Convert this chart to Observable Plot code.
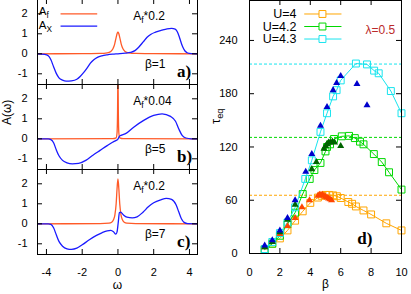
<!DOCTYPE html>
<html><head><meta charset="utf-8">
<script src="https://cdn.jsdelivr.net/npm/d3@7"></script>
<script src="https://cdn.jsdelivr.net/npm/@observablehq/plot@0.6"></script>
<style>
body{margin:0;background:#fff;}
#chart{position:relative;width:411px;height:294px;overflow:hidden;background:#fff;}
</style></head><body><div id="chart"></div>
<script>
// ---------- Left column: spectral functions A(ω) ----------
// panel a) β=1
const wOa = [-4.5,-2,-1,-0.6,-0.4,-0.28,-0.18,-0.1,-0.04,0,0.04,0.1,0.18,0.28,0.4,0.6,1,2,4.45];
const aOa = [0,0.01,0.02,0.05,0.12,0.25,0.5,0.82,1.03,1.08,1.03,0.82,0.5,0.25,0.12,0.05,0.02,0.01,0];
const wXa = [-4.5,-4.1,-3.9,-3.75,-3.6,-3.45,-3.3,-3.1,-2.9,-2.6,-2.3,-2.1,-1.9,-1.7,-1.54,-1.35,-1.15,-0.9,-0.6,-0.3,0,0.4,0.7,0.95,1.16,1.4,1.63,1.85,2.1,2.45,2.75,3.0,3.2,3.32,3.42,3.52,3.62,3.75,3.9,4.1,4.45];
const aXa = [0,-0.03,-0.1,-0.3,-0.65,-0.98,-1.2,-1.32,-1.37,-1.35,-1.27,-1.12,-0.92,-0.68,-0.47,-0.3,-0.18,-0.1,-0.05,-0.02,0,0.03,0.07,0.16,0.33,0.58,0.83,0.98,1.08,1.18,1.25,1.27,1.23,1.1,0.88,0.6,0.35,0.14,0.04,0.01,0];
// panel b) β=5
const wOb = [-4.5,-0.3,-0.1,-0.05,-0.02,0,0.02,0.05,0.1,0.3,4.45];
const aOb = [0,0.01,0.05,0.3,1.5,3.5,1.5,0.3,0.05,0.01,0];
const wXb = [-4.5,-3.9,-3.75,-3.6,-3.45,-3.3,-3.1,-2.85,-2.55,-2.2,-1.8,-1.4,-1.0,-0.6,-0.3,-0.1,0,0.08,0.2,0.45,0.88,1.44,2.0,2.47,2.94,3.22,3.4,3.59,3.8,4.1,4.45];
const aXb = [0,0,-0.04,-0.2,-0.55,-0.85,-1.08,-1.2,-1.25,-1.23,-1.08,-0.82,-0.58,-0.34,-0.17,-0.08,-0.02,0.12,0.18,0.27,0.58,0.92,1.17,1.25,1.12,0.88,0.5,0.17,0.04,0,0];
// panel c) β=7
const wOc = [-4.5,-1,-0.5,-0.35,-0.25,-0.17,-0.1,-0.05,0,0.05,0.1,0.17,0.25,0.35,0.5,1,4.45];
const aOc = [0,0.01,0.03,0.08,0.2,0.45,1.0,1.75,2.25,1.75,1.0,0.45,0.2,0.08,0.03,0.01,0];
const wXc = [-4.5,-3.9,-3.75,-3.6,-3.45,-3.3,-3.1,-2.85,-2.6,-2.3,-2.0,-1.6,-1.2,-0.9,-0.6,-0.4,-0.25,-0.12,-0.05,0.02,0.08,0.15,0.3,0.5,0.8,1.07,1.4,1.7,2.0,2.4,2.7,3.0,3.25,3.4,3.55,3.7,3.9,4.45];
const aXc = [0,0,-0.03,-0.2,-0.55,-0.88,-1.12,-1.25,-1.28,-1.22,-1.05,-0.8,-0.58,-0.45,-0.35,-0.33,-0.4,-0.52,-0.4,0.1,0.55,0.58,0.45,0.33,0.3,0.35,0.58,0.85,1.05,1.2,1.27,1.22,0.95,0.6,0.25,0.07,0.01,0];

const xTicksL = [-4,-2,0,2,4];
const yTicksL = [-1,0,1,2];
const scaleLabels = ["A_{f}*0.2","A_{f}*0.04","A_{f}*0.2"];
const betaLabels = ["β=1","β=5","β=7"];
const panelTags = ["a)","b)","c)"];
const legendLeft = ["A_{f}","A_{X}"];
const xLabelLeft = "ω";
const yLabelLeft = "A(ω)";

// ---------- Right panel: τ_eq vs β ----------
const betaU4  = [1,1.5,2,2.5,3,3.5,4,4.5,4.75,5,5.25,5.5,5.75,6,6.5,6.75,7,7.5,8,9,10];
const tauU4   = [5,11,17,26,37,47.5,57,63,65,66,66,65.5,64.5,62.5,58,56,53,48.5,44,34,26];
const betaU42 = [1,1.5,2,2.5,3,3.5,3.96,4.27,4.67,5.0,5.1,5.3,5.56,6.07,6.55,6.93,7.27,7.5,8.18,8.7,9.18,10];
const tauU42  = [4.5,11,20,33,46,67,84,94,102,115,120,123,129,132,132.5,130,126,123,112,103,91.5,72];
const betaU43 = [1,1.5,2,2.5,3,3.67,4.1,4.67,5.1,5.5,5.73,6.0,7.0,7.73,8.2,8.5,9.3,10];
const tauU43  = [5,13,23,35,52,84,105,137,158,177,184,195,214,213,206,203,183,158];
const betaT4  = [1,1.5,2,2.5,3,3.45,3.95,4.5,4.6,4.7,4.8,4.9,5.0,5.1,5.2,5.3,5.4];
const tauT4   = [7,13,22,31,40,52,60,65,66,66,66,65,64,63,62,61,60];
const betaT42 = [1,1.5,2,2.5,3,4.1,4.4,4.9,5.0,5.1,5.2,5.3,5.45,5.6,6.0];
const tauT42  = [7,13,24,38,55,95,103,118,121,123,125,125,126,125,121];
const betaT43 = [1,1.5,2,2.5,3,3.7,4.1,4.67,5.1,5.5,5.73,6.0,7.07,7.73];
const tauT43  = [9,15,26,40,60,92,112,144,165,184,192,200,191,167];
const tauEq   = [65.6,130.8,213.4];   // U=4, 4.2, 4.3 dashed levels
const seriesNames = ["U=4","U=4.2","U=4.3"];
const xTicksR = [0,2,4,6,8,10];
const yTicksR = [0,60,120,180,240];
const lambdaLabel = "λ=0.5";
const tagR = "d)";
const xLabelRight = "β";
const yLabelRight = "τ_{eq}";

// ---------- helpers ----------
const FONT = '"Liberation Sans", Arial, sans-serif';
const zipWA = (w,a) => w.map((v,i) => ({w:v, a:a[i]}));
const zipBT = (b,t) => b.map((v,i) => ({b:v, t:t[i]}));
function subscripts(svg){
  d3.select(svg).selectAll("text").each(function(){
    const t = this.textContent;
    const m = t.match(/^(.*?)_\{(.*?)\}(.*)$/);
    if(!m) return;
    const s = d3.select(this); s.text(null);
    s.append("tspan").text(m[1]);
    s.append("tspan").attr("font-size","0.72em").attr("dy",3).text(m[2]);
    if(m[3]) s.append("tspan").attr("dy",-3).text(m[3]);
  });
}
const chart = document.getElementById("chart");
const baseStyle = (left, top) => ({background:"transparent", position:"absolute", left:left+"px", top:top+"px", overflow:"visible", fontFamily:FONT, fontSize:"11px"});

const ORANGE = "#ff5a28", BLUE = "#1a1aff";
const PH = 85, ML = 37, MR = 3, WL = 200, FW = WL-ML-MR;
const tops = [-1, 84, 169];
const oranges = [zipWA(wOa,aOa), zipWA(wOb,aOb), zipWA(wOc,aOc)];
const blues = [zipWA(wXa,aXa), zipWA(wXb,aXb), zipWA(wXc,aXc)];

for (let i = 0; i < 3; i++){
  const last = i === 2;
  const mb = last ? 40 : 0;
  const marks = [
    Plot.line(oranges[i], {x:"w", y:"a", stroke:ORANGE, strokeWidth:1.3, curve:"monotone-x", clip:true}),
    Plot.line(blues[i], {x:"w", y:"a", stroke:BLUE, strokeWidth:1.3, curve:"monotone-x", clip:true}),
    Plot.tickX(xTicksL, {x:d=>d, insetTop:PH-5, stroke:"#000"}),
    Plot.tickX(xTicksL, {x:d=>d, insetBottom:PH-5, stroke:"#000"}),
    Plot.tickY(yTicksL, {y:d=>d, insetRight:FW-5, stroke:"#000"}),
    Plot.tickY(yTicksL, {y:d=>d, insetLeft:FW-5, stroke:"#000"}),
    Plot.axisY({ticks:yTicksL, tickSize:0, tickPadding:10, tickFormat:d=>String(d), label:null, fontSize:11}),
    Plot.frame({stroke:"#000"}),
    Plot.text([scaleLabels[i]], {x:0.85, y:1.9, text:d=>d, textAnchor:"start", fontSize:12}),
    Plot.text([betaLabels[i]], {x:2.66, y:-0.5, text:d=>d, textAnchor:"end", fontSize:12}),
    Plot.text([panelTags[i]], {x:3.31, y:-0.9, text:d=>d, textAnchor:"start", fontSize:17, fontWeight:"bold", fontFamily:'"Liberation Serif", serif'})
  ];
  if (i === 0){
    marks.push(
      Plot.link([0], {x1:-3.21, x2:-1.16, y1:2.0, y2:2.0, stroke:ORANGE, strokeWidth:1.3}),
      Plot.link([0], {x1:-3.21, x2:-1.16, y1:1.38, y2:1.38, stroke:BLUE, strokeWidth:1.3}),
      Plot.text([legendLeft[0]], {x:-4.43, y:2.1, text:d=>d, textAnchor:"start", fontSize:11.5}),
      Plot.text([legendLeft[1]], {x:-4.43, y:1.44, text:d=>d, textAnchor:"start", fontSize:11.5})
    );
  }
  if (i === 1){
    marks.push(Plot.text([yLabelLeft], {frameAnchor:"left", dx:-30, dy:-2, rotate:-90, text:d=>d, fontSize:12}));
  }
  if (last){
    marks.push(
      Plot.axisX({ticks:xTicksL, tickSize:0, tickPadding:14, tickFormat:d=>String(d), label:null, fontSize:11}),
      Plot.text([xLabelLeft], {frameAnchor:"bottom", dy:34.5, text:d=>d, fontSize:12})
    );
  }
  const svg = Plot.plot({
    width:WL, height:PH+mb, marginLeft:ML, marginRight:MR, marginTop:0, marginBottom:mb,
    x:{domain:[-4.5,4.45], axis: last ? undefined : null},
    y:{domain:[-1.535,2.715]},
    style: baseStyle(0, tops[i]),
    marks
  });
  subscripts(svg);
  chart.appendChild(svg);
}

// ---------- right plot ----------
const C = ["#ffa500", "#00d800", "#18e4ee"];
const CT = ["#ff4500", "#006400", "#0000cc"];
const sq = [zipBT(betaU4,tauU4), zipBT(betaU42,tauU42), zipBT(betaU43,tauU43)];
const tri = [zipBT(betaT4,tauT4), zipBT(betaT42,tauT42), zipBT(betaT43,tauT43)];
const FWR = 152, FHR = 253;
const legY = [269.8, 255.7, 241.6];
const rmarks = [];
for (let k = 0; k < 3; k++) rmarks.push(Plot.ruleY([tauEq[k]], {y:d=>d, stroke:C[k], strokeDasharray:"3,2", strokeWidth:1}));
for (let k = 0; k < 3; k++){
  rmarks.push(
    Plot.line(sq[k], {x:"b", y:"t", stroke:C[k], strokeWidth:1}),
    Plot.dot(sq[k], {x:"b", y:"t", symbol:"square", r:3.9, stroke:C[k], fill:"none", strokeWidth:1})
  );
}
for (let k = 0; k < 3; k++) rmarks.push(Plot.dot(tri[k], {x:"b", y:"t", symbol:"triangle", r:2.6, fill:CT[k], stroke:"none"}));
for (let k = 0; k < 3; k++){
  rmarks.push(
    Plot.link([0], {x1:3.6, x2:6.05, y1:legY[k], y2:legY[k], stroke:C[k], strokeWidth:1}),
    Plot.dot([0], {x:4.8, y:legY[k], symbol:"square", r:3.9, stroke:C[k], fill:"white", strokeWidth:1}),
    Plot.text([seriesNames[k]], {x:3.09, y:legY[k], text:d=>d, textAnchor:"end", fontSize:12.5})
  );
}
rmarks.push(
  Plot.tickX(xTicksR, {x:d=>d, insetTop:FHR-5, stroke:"#000"}),
  Plot.tickX(xTicksR, {x:d=>d, insetBottom:FHR-5, stroke:"#000"}),
  Plot.tickY(yTicksR, {y:d=>d, insetRight:FWR-5, stroke:"#000"}),
  Plot.tickY(yTicksR, {y:d=>d, insetLeft:FWR-5, stroke:"#000"}),
  Plot.axisY({ticks:yTicksR, tickSize:0, tickPadding:12, tickFormat:d=>String(d), label:null, fontSize:11}),
  Plot.axisX({ticks:xTicksR, tickSize:0, tickPadding:15, tickFormat:d=>String(d), label:null, fontSize:11}),
  Plot.frame({stroke:"#000"}),
  Plot.text([lambdaLabel], {x:7.63, y:251.2, text:d=>d, textAnchor:"start", fill:"#bb2a2a", fontSize:12}),
  Plot.text([tagR], {x:7.09, y:16.6, text:d=>d, textAnchor:"start", fontSize:17, fontWeight:"bold", fontFamily:'"Liberation Serif", serif'}),
  Plot.text([xLabelRight], {frameAnchor:"bottom", dy:34, text:d=>d, fontSize:12}),
  Plot.text([yLabelRight], {frameAnchor:"left", dx:-34, dy:-3, rotate:-90, text:d=>d, fontSize:13})
);
const rsvg = Plot.plot({
  width:206, height:294, marginLeft:44, marginRight:10, marginTop:0, marginBottom:41,
  x:{domain:[0,10]}, y:{domain:[0,285]},
  style: baseStyle(205, 0),
  marks: rmarks
});
subscripts(rsvg);
chart.appendChild(rsvg);
</script></body></html>
